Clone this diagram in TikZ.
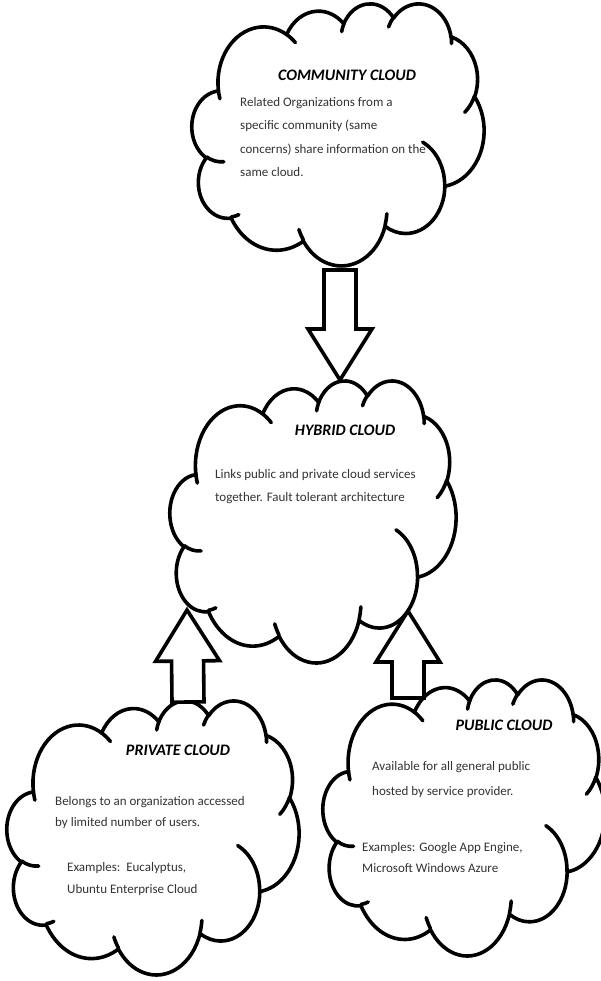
\documentclass[tikz,border=0pt]{standalone}
\usepackage{fontspec}
\setmainfont{Carlito}
\usetikzlibrary{calc}

\tikzset{
  cloudbox/.style={inner sep=0pt, outer sep=0pt},
  cloudline/.style={draw=black, line width=3.6pt, line cap=round, line join=round},
  titletext/.style={font=\bfseries\itshape\fontsize{16}{16}\selectfont, inner sep=0pt},
  bodytext/.style={font=\fontsize{13}{23}\selectfont, text=black!80,
    align=left, anchor=north west, inner sep=0pt},
  blockarrow/.style={draw=black, fill=white, line width=3.6pt, line join=miter}
}

% cloud outline in a 432 x 432 box, fitted to node #1 of size #2 x #3
\newcommand{\cloudshape}[3]{%
  \begin{scope}[shift={(#1.north west)}, xscale=#2/432, yscale=#3/432]
    \filldraw[cloudline, fill=white] (39,143.7)
      \foreach \rx/\ry/\st/\sw [evaluate={\st as \ts using atan2(\rx*sin(\st),\ry*cos(\st))},
          evaluate={\st as \dt using mod(atan2(\rx*sin(\st+\sw),\ry*cos(\st+\sw))-\ts+720,360)}]
        in {67.53/91.90/-190.49/123.78, 53.33/72.67/-144.10/89.95,
            43.65/59.45/-145.81/99.72, 48.57/65.95/-130.99/117.24,
            53.33/72.73/-78.71/109.03, 67.75/92.20/-46.27/130.27,
            57.85/78.67/0.63/114.03, 67.52/92.15/22.45/115.17,
            77.20/105.43/66.24/75.71, 43.60/59.18/-274.94/146.74,
            43.45/59.45/-246.83/152.52}
        { arc[start angle=\ts, delta angle=\dt, x radius=\rx, y radius=\ry] } -- cycle;
    \foreach \px/\py/\rx/\ry/\st/\sw [evaluate={\st as \ts using atan2(\rx*sin(\st),\ry*cos(\st))},
        evaluate={\st as \dt using mod(atan2(\rx*sin(\st+\sw),\ry*cos(\st+\sw))-\ts+720,360)}]
      in {46.93/261.77/43.45/59.45/86.74/26.43, 69.28/348.99/43.60/59.18/73.61/11.45,
          164.78/390.90/67.52/92.15/137.62/14.08, 288.27/347.51/67.52/92.15/6.45/16.00,
          341.29/229.54/57.85/78.67/-70.29/70.92, 417.98/153.54/53.33/72.73/30.32/27.75,
          383.24/54.26/48.57/65.95/-13.74/14.86, 290.78/39.52/48.57/65.95/-149.18/18.20,
          221.41/47.20/43.65/59.45/-163.49/17.69, 140.00/51.92/67.53/91.90/-66.71/12.32,
          41.27/157.89/67.53/91.90/157.65/11.86}
      \draw[cloudline] (\px,\py) arc[start angle=\ts, delta angle=\dt, x radius=\rx, y radius=\ry];
  \end{scope}}

% block arrow from tail #1 to tip #2
\newcommand{\blockarrow}[2]{%
  \coordinate (hb) at ($(#2)!51pt!(#1)$);
  \draw[blockarrow] ($(#1)!16pt!90:(#2)$) -- ($(hb)!16pt!90:(#2)$)
    -- ($(hb)!32pt!90:(#2)$) -- (#2) -- ($(hb)!32pt!-90:(#2)$)
    -- ($(hb)!16pt!-90:(#2)$) -- ($(#1)!16pt!-90:(#2)$) -- cycle;
}

\begin{document}
\begin{tikzpicture}[x=1pt, y=-1pt]
  \useasboundingbox[fill=white] (0,0) rectangle (600,981);

  % clouds
  \node[cloudbox, minimum width=292, minimum height=262] (comm) at (338,134) {};
  \node[cloudbox, minimum width=286, minimum height=282] (hyb) at (313,521) {};
  \node[cloudbox, minimum width=292, minimum height=274] (priv) at (153,837) {};
  \node[cloudbox, minimum width=282, minimum height=276] (pub) at (464,817) {};
  \cloudshape{comm}{292}{262}
  \cloudshape{hyb}{286}{282}
  \cloudshape{priv}{292}{274}
  \cloudshape{pub}{282}{276}

  % arrows
  \coordinate (commtail) at ($(comm.south)+(2,5)$);
  \coordinate (commtip) at (commtail |- hyb.north);
  \blockarrow{commtail}{commtip}
  \coordinate (privtail) at (188,702);
  \coordinate (privtip) at (187,610);
  \blockarrow{privtail}{privtip}
  \coordinate (pubtail) at (408,698);
  \coordinate (pubtip) at (408,611);
  \blockarrow{pubtail}{pubtip}

  % texts
  \node[titletext] (commtitle) at (347,75) {COMMUNITY CLOUD};
  \node[bodytext, font=\fontsize{13}{23.5}\selectfont] (commbody) at (240,97) {Related Organizations from a\\
    specific community (same\\ concerns) share information on the\\ same cloud.};

  \node[titletext] (hybtitle) at (345,430) {HYBRID CLOUD};
  \node[bodytext] (hybbody) at (215,469) {Links public and private cloud services\\
    together. Fault tolerant architecture};

  \node[titletext] (privtitle) at (178,750) {PRIVATE CLOUD};
  \node[bodytext, font=\fontsize{13}{21}\selectfont] (privbody) at (55,796)
    {Belongs to an organization accessed\\ by limited number of users.};
  \node[bodytext, font=\fontsize{13}{22}\selectfont] (privex) at (67,862)
    {Examples:\ \ Eucalyptus,\\ Ubuntu\ Enterprise Cloud};

  \node[titletext] (pubtitle) at (504,725) {PUBLIC CLOUD};
  \node[bodytext, font=\fontsize{13}{25}\selectfont] (pubbody) at (372,761)
    {Available for all general public\\ hosted by service provider.};
  \node[bodytext, font=\fontsize{13}{21}\selectfont] (pubex) at (362,842)
    {Examples: Google App Engine,\\ Microsoft Windows\ Azure};
\end{tikzpicture}
\end{document}
